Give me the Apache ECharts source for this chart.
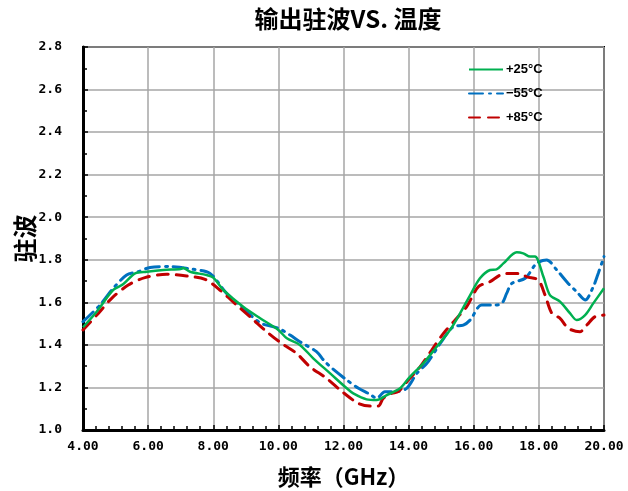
<!DOCTYPE html>
<html>
<head>
<meta charset="utf-8">
<script src="https://cdn.jsdelivr.net/npm/echarts@6/dist/echarts.min.js"></script>
<style>html,body{margin:0;padding:0;background:#fff;}#c{width:628px;height:491px;}</style>
</head>
<body>
<div id="c"></div>
<script>
const seriesNames = ['+25°C', '\u221255°C', '+85°C'];

const freq25 = [4.0,4.42,4.93,5.24,5.6,5.96,6.47,7.0,7.08,7.29,7.8,8.0,8.31,8.92,9.44,10.0,10.26,10.66,11.07,11.59,12.1,12.3,12.71,13.02,13.33,13.74,14.04,14.45,14.86,15.27,15.58,15.89,16.19,16.5,16.7,16.91,17.32,17.52,17.73,17.88,18.14,18.34,18.65,18.96,19.16,19.42,19.67,20.0];
const vswr25 = [1.483,1.556,1.658,1.686,1.736,1.744,1.752,1.757,1.761,1.744,1.728,1.716,1.658,1.579,1.525,1.47,1.431,1.40,1.337,1.266,1.196,1.172,1.144,1.141,1.164,1.196,1.25,1.313,1.391,1.47,1.548,1.634,1.713,1.752,1.755,1.783,1.835,1.83,1.815,1.815,1.72,1.634,1.603,1.548,1.517,1.54,1.595,1.666];

const freqM55 = [4.0,4.52,4.93,5.34,5.7,6.06,6.67,7.39,7.9,8.41,8.82,9.44,10.0,10.36,10.66,11.17,11.43,11.69,12.1,12.46,12.81,13.02,13.27,13.58,13.94,14.25,14.56,14.97,15.37,15.68,15.89,16.24,16.6,16.86,17.01,17.17,17.58,17.93,18.24,18.55,18.9,19.16,19.42,19.67,19.83,20.0];
const vswrM55 = [1.509,1.587,1.666,1.728,1.744,1.764,1.768,1.755,1.736,1.642,1.587,1.504,1.478,1.446,1.415,1.368,1.321,1.285,1.235,1.196,1.168,1.149,1.18,1.18,1.196,1.266,1.313,1.407,1.485,1.493,1.517,1.587,1.587,1.595,1.642,1.689,1.713,1.783,1.799,1.752,1.689,1.65,1.611,1.673,1.739,1.815];

const freq85 = [4.0,4.47,4.88,5.39,5.9,6.57,7.18,7.75,8.2,8.72,9.18,9.64,10.1,10.56,10.97,11.48,11.99,12.46,12.81,13.07,13.22,13.48,13.68,13.99,14.35,14.71,15.07,15.43,15.78,16.14,16.5,16.81,17.11,17.42,17.63,17.98,18.19,18.4,18.65,18.9,19.26,19.47,19.72,20.0];
const vswr85 = [1.47,1.548,1.619,1.681,1.716,1.732,1.724,1.708,1.658,1.587,1.525,1.462,1.407,1.36,1.297,1.243,1.176,1.125,1.113,1.113,1.149,1.172,1.18,1.235,1.297,1.376,1.454,1.517,1.579,1.673,1.697,1.728,1.736,1.736,1.72,1.705,1.634,1.548,1.525,1.478,1.462,1.493,1.532,1.54];

const zip = (xs, ys) => xs.map((x, i) => [x, ys[i]]);

const chart = echarts.init(document.getElementById('c'));
chart.setOption({
  backgroundColor: '#fff',
  animation: false,
  title: {
    text: '输出驻波VS. 温度',
    left: 343, top: 2, textAlign: 'center',
    textStyle: { fontFamily: 'Noto Sans CJK SC', fontWeight: 'bold', fontSize: 24, color: '#000' }
  },
  legend: {
    orient: 'vertical', left: 463, top: 58,
    itemWidth: 34, itemHeight: 14, itemGap: 11,
    itemStyle: { opacity: 0 },
    textStyle: { fontFamily: 'Liberation Sans', fontWeight: 'bold', fontSize: 13, color: '#000', padding: [0,0,0,-2] },
    data: seriesNames
  },
  grid: { left: 83, right: 24, top: 47, bottom: 61, show: true, borderColor: '#000', borderWidth: 2,
          containLabel: false, outerBoundsMode: 'none' },
  xAxis: {
    type: 'value', min: 4, max: 20, interval: 2,
    name: '频率（GHz）', nameLocation: 'middle', nameGap: 36, nameMoveOverlap: false,
    nameTextStyle: { fontFamily: 'Noto Sans CJK SC', fontWeight: 'bold', fontSize: 22, color: '#000' },
    axisLine: { lineStyle: { color: '#000', width: 3 } },
    axisTick: { show: true, inside: true, length: 5, lineStyle: { color: '#000', width: 1.5 } },
    minorTick: { show: true, splitNumber: 5, length: 4, lineStyle: { color: '#000', width: 1.5 } },
    splitLine: { show: true, lineStyle: { color: '#a6a6a6', width: 1.5 } },
    axisLabel: { formatter: v => v.toFixed(2), margin: 10, fontFamily: 'DejaVu Sans Mono', fontWeight: 'bold', fontSize: 13, color: '#000' }
  },
  yAxis: {
    type: 'value', min: 1.0, max: 2.8, interval: 0.2,
    name: '驻波', nameLocation: 'middle', nameGap: 46, nameRotate: 90, nameMoveOverlap: false,
    nameTextStyle: { fontFamily: 'Noto Sans CJK SC', fontWeight: 'bold', fontSize: 24, color: '#000' },
    axisLine: { lineStyle: { color: '#000', width: 3 } },
    axisTick: { show: true, inside: true, length: 5, lineStyle: { color: '#000', width: 1.5 } },
    minorTick: { show: true, splitNumber: 2, length: 4, lineStyle: { color: '#000', width: 1.5 } },
    splitLine: { show: true, lineStyle: { color: '#a6a6a6', width: 1.5 } },
    axisLabel: { formatter: v => v.toFixed(1), margin: 21, fontFamily: 'DejaVu Sans Mono', fontWeight: 'bold', fontSize: 13, color: '#000' }
  },
  series: [
    { name: seriesNames[0], type: 'line', data: zip(freq25, vswr25), smooth: 0.3, symbol: 'none', z: 3,
      lineStyle: { color: '#00b050', width: 2.5 }, itemStyle: { color: '#00b050' } },
    { name: seriesNames[1], type: 'line', data: zip(freqM55, vswrM55), smooth: 0.3, symbol: 'none', z: 2,
      lineStyle: { color: '#0070c0', width: 3, type: [14, 6, 2, 6], cap: 'round' }, itemStyle: { color: '#0070c0' } },
    { name: seriesNames[2], type: 'line', data: zip(freq85, vswr85), smooth: 0.3, symbol: 'none', z: 2,
      lineStyle: { color: '#c00000', width: 3, type: [11, 8], cap: 'round' }, itemStyle: { color: '#c00000' } }
  ]
});
</script>
</body>
</html>
